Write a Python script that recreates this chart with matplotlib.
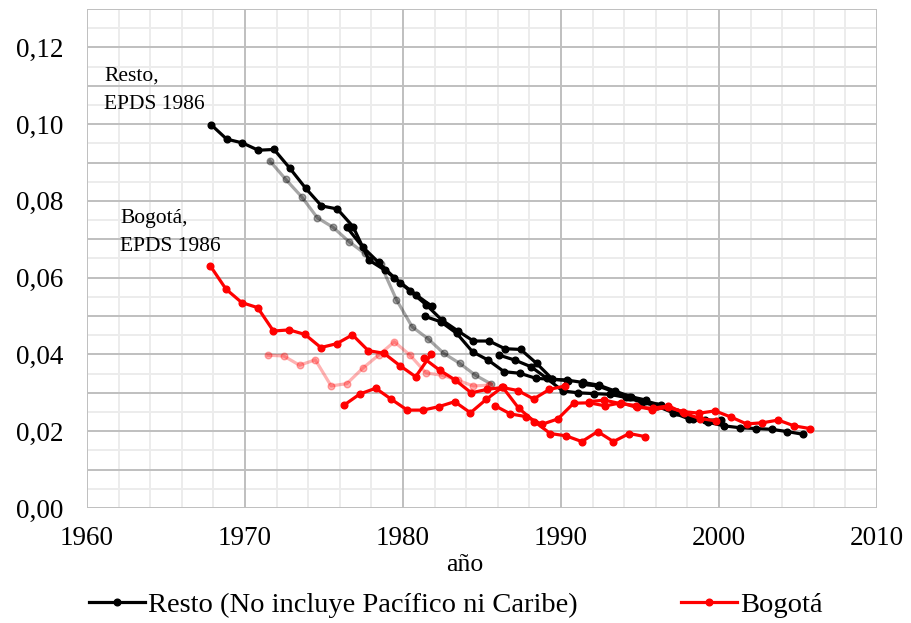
import matplotlib
matplotlib.use("Agg")
import matplotlib.pyplot as plt
from matplotlib.lines import Line2D
from matplotlib.ticker import MultipleLocator, FuncFormatter

# Resto (No incluye Pacifico ni Caribe), one series per survey
resto_1986_x = [1967.84, 1968.84, 1969.84, 1970.84, 1971.84, 1972.84, 1973.84, 1974.84,
                1975.84, 1976.84, 1977.84, 1978.84, 1979.84, 1980.84, 1981.84]
resto_1986_y = [0.0999, 0.0961, 0.0951, 0.0932, 0.0934, 0.0885, 0.0833, 0.0787,
                0.0779, 0.0733, 0.0646, 0.0620, 0.0587, 0.0555, 0.0525]

resto_1990_x = [1971.58, 1972.58, 1973.58, 1974.58, 1975.58, 1976.58, 1977.58, 1978.58,
                1979.58, 1980.58, 1981.58, 1982.58, 1983.58, 1984.58, 1985.58]
resto_1990_y = [0.0904, 0.0856, 0.0811, 0.0756, 0.0731, 0.0694, 0.0663, 0.0635,
                0.0543, 0.0472, 0.0441, 0.0403, 0.0377, 0.0346, 0.0323]

resto_1995_x = [1976.45, 1977.45, 1978.45, 1979.45, 1980.45, 1981.45, 1982.45, 1983.45,
                1984.45, 1985.45, 1986.45, 1987.45, 1988.45, 1989.45, 1990.45]
resto_1995_y = [0.0731, 0.0680, 0.0640, 0.0600, 0.0565, 0.0530, 0.0490, 0.0462,
                0.0435, 0.0435, 0.0415, 0.0413, 0.0377, 0.0336, 0.0332]

resto_2000_x = [1981.40, 1982.40, 1983.40, 1984.40, 1985.40, 1986.40, 1987.40, 1988.40,
                1989.40, 1990.40, 1991.40, 1992.40, 1993.40, 1994.40, 1995.40]
resto_2000_y = [0.0499, 0.0485, 0.0455, 0.0407, 0.0385, 0.0355, 0.0351, 0.0338,
                0.0335, 0.0333, 0.0327, 0.0320, 0.0305, 0.0290, 0.0281]

resto_2005_x = [1986.10, 1987.10, 1988.10, 1989.10, 1990.10, 1991.10, 1992.10, 1993.10,
                1994.10, 1995.10, 1996.10, 1997.10, 1998.10, 1999.10, 2000.10]
resto_2005_y = [0.0398, 0.0385, 0.0368, 0.0338, 0.0305, 0.0300, 0.0298, 0.0296,
                0.0288, 0.0276, 0.0265, 0.0248, 0.0232, 0.0228, 0.0230]

resto_2010_x = [1991.33, 1992.33, 1993.33, 1994.33, 1995.33, 1996.33, 1997.33, 1998.33,
                1999.33, 2000.33, 2001.33, 2002.33, 2003.33, 2004.33, 2005.33]
resto_2010_y = [0.0322, 0.0318, 0.0303, 0.0290, 0.0279, 0.0268, 0.0250, 0.0232,
                0.0223, 0.0214, 0.0209, 0.0207, 0.0205, 0.0199, 0.0192]

# Bogota
bog_1986_x = [1967.80, 1968.80, 1969.80, 1970.80, 1971.80, 1972.80, 1973.80, 1974.80,
              1975.80, 1976.80, 1977.80, 1978.80, 1979.80, 1980.80, 1981.80]
bog_1986_y = [0.0631, 0.0570, 0.0535, 0.0522, 0.0461, 0.0464, 0.0452, 0.0418,
              0.0428, 0.0451, 0.0410, 0.0403, 0.0371, 0.0342, 0.0401]

bog_1990_x = [1971.45, 1972.45, 1973.45, 1974.45, 1975.45, 1976.45, 1977.45, 1978.45,
              1979.45, 1980.45, 1981.45, 1982.45, 1983.45, 1984.45, 1985.45]
bog_1990_y = [0.0398, 0.0396, 0.0372, 0.0386, 0.0318, 0.0324, 0.0364, 0.0398,
              0.0433, 0.0398, 0.0352, 0.0346, 0.0333, 0.0318, 0.0320]

bog_1995_x = [1976.27, 1977.27, 1978.27, 1979.27, 1980.27, 1981.27, 1982.27, 1983.27,
              1984.27, 1985.27, 1986.27, 1987.27, 1988.27, 1989.27, 1990.27]
bog_1995_y = [0.0268, 0.0297, 0.0312, 0.0283, 0.0255, 0.0255, 0.0264, 0.0277,
              0.0248, 0.0283, 0.0314, 0.0306, 0.0284, 0.0309, 0.0318]

bog_2000_x = [1981.32, 1982.32, 1983.32, 1984.32, 1985.32, 1986.32, 1987.32, 1988.32,
              1989.32, 1990.32, 1991.32, 1992.32, 1993.32, 1994.32, 1995.32]
bog_2000_y = [0.0390, 0.0359, 0.0333, 0.0300, 0.0309, 0.0314, 0.0260, 0.0225,
              0.0194, 0.0188, 0.0173, 0.0199, 0.0173, 0.0194, 0.0186]

bog_2005_x = [1985.80, 1986.80, 1987.80, 1988.80, 1989.80, 1990.80, 1991.80, 1992.80,
              1993.80, 1994.80, 1995.80, 1996.80, 1997.80, 1998.80, 1999.80]
bog_2005_y = [0.0267, 0.0245, 0.0238, 0.0218, 0.0232, 0.0273, 0.0274, 0.0266,
              0.0274, 0.0262, 0.0260, 0.0266, 0.0247, 0.0233, 0.0227]

bog_2010_x = [1991.75, 1992.75, 1993.75, 1994.75, 1995.75, 1996.75, 1997.75, 1998.75,
              1999.75, 2000.75, 2001.75, 2002.75, 2003.75, 2004.75, 2005.75]
bog_2010_y = [0.0277, 0.0281, 0.0272, 0.0267, 0.0256, 0.0262, 0.0251, 0.0247,
              0.0253, 0.0237, 0.0219, 0.0222, 0.0229, 0.0214, 0.0207]

FONT = "Liberation Serif"
LW = 2.3
MS = 4.8

fig = plt.figure(figsize=(9.12, 6.23), dpi=100)
ax = fig.add_axes([0.0954, 0.1846, 0.8662, 0.801])

# faded series first
ax.plot(resto_1990_x, resto_1990_y, color="black", alpha=0.35, lw=LW,
        marker="o", ms=MS, zorder=2)
ax.plot(bog_1990_x, bog_1990_y, color="red", alpha=0.3, lw=LW,
        marker="o", ms=MS, zorder=2)

for xs, ys in [(resto_1986_x, resto_1986_y), (resto_1995_x, resto_1995_y),
               (resto_2000_x, resto_2000_y), (resto_2005_x, resto_2005_y),
               (resto_2010_x, resto_2010_y)]:
    ax.plot(xs, ys, color="black", lw=LW, marker="o", ms=MS, zorder=3)

for xs, ys in [(bog_1986_x, bog_1986_y), (bog_1995_x, bog_1995_y),
               (bog_2000_x, bog_2000_y), (bog_2005_x, bog_2005_y),
               (bog_2010_x, bog_2010_y)]:
    ax.plot(xs, ys, color="red", lw=LW, marker="o", ms=MS, zorder=4)

ax.set_xlim(1960, 2010)
ax.set_ylim(0, 0.13)
ax.xaxis.set_major_locator(MultipleLocator(10))
ax.xaxis.set_minor_locator(MultipleLocator(2))
ax.set_yticks([0, 0.02, 0.04, 0.06, 0.08, 0.10, 0.12])
ax.yaxis.set_minor_locator(MultipleLocator(0.005))
ax.yaxis.set_major_formatter(FuncFormatter(lambda v, p: f"{v:.2f}".replace(".", ",")))

# grid: darker every 10 years / 0.01, light every 2 years / 0.005
for v in range(1960, 2011, 2):
    ax.axvline(v, color="#bfbfbf" if v % 10 == 0 else "#ececec", lw=1.4, zorder=1 if v % 10 == 0 else 0)
for i in range(27):
    v = i * 0.005
    ax.axhline(v, color="#bfbfbf" if i % 2 == 0 else "#ececec", lw=1.4, zorder=1 if i % 2 == 0 else 0)

for s in ax.spines.values():
    s.set_visible(False)
ax.tick_params(which="both", length=0)
ax.tick_params(axis="x", pad=13)
ax.tick_params(axis="y", pad=17)
for lab in ax.get_xticklabels() + ax.get_yticklabels():
    lab.set_fontfamily(FONT)
    lab.set_fontsize(19.5)

fig.text(465 / 912, 1 - 565 / 623, "año", fontfamily=FONT, fontsize=18.5,
         ha="center", va="center")

ax.text(1961.1, 0.1150, "Resto,\nEPDS 1986", fontfamily=FONT, fontsize=15.5,
        ha="left", va="top", linespacing=1.65)
ax.text(1962.1, 0.0780, "Bogotá,\nEPDS 1986", fontfamily=FONT, fontsize=15.5,
        ha="left", va="top", linespacing=1.65)

handles = [Line2D([], [], color="black", lw=LW, marker="o", ms=MS, markevery=[1]),
           Line2D([], [], color="red", lw=LW, marker="o", ms=MS, markevery=[1])]
leg = fig.legend(handles, ["Resto (No incluye Pacífico ni Caribe)", "Bogotá"],
                 loc="center left", bbox_to_anchor=(89 / 912, 1 - 605 / 623), ncol=2,
                 frameon=False, prop={"family": FONT, "size": 20.5},
                 handlelength=1.95, handletextpad=0.12, columnspacing=3.65,
                 borderaxespad=0, borderpad=0)

fig.savefig("out.png", dpi=100)
